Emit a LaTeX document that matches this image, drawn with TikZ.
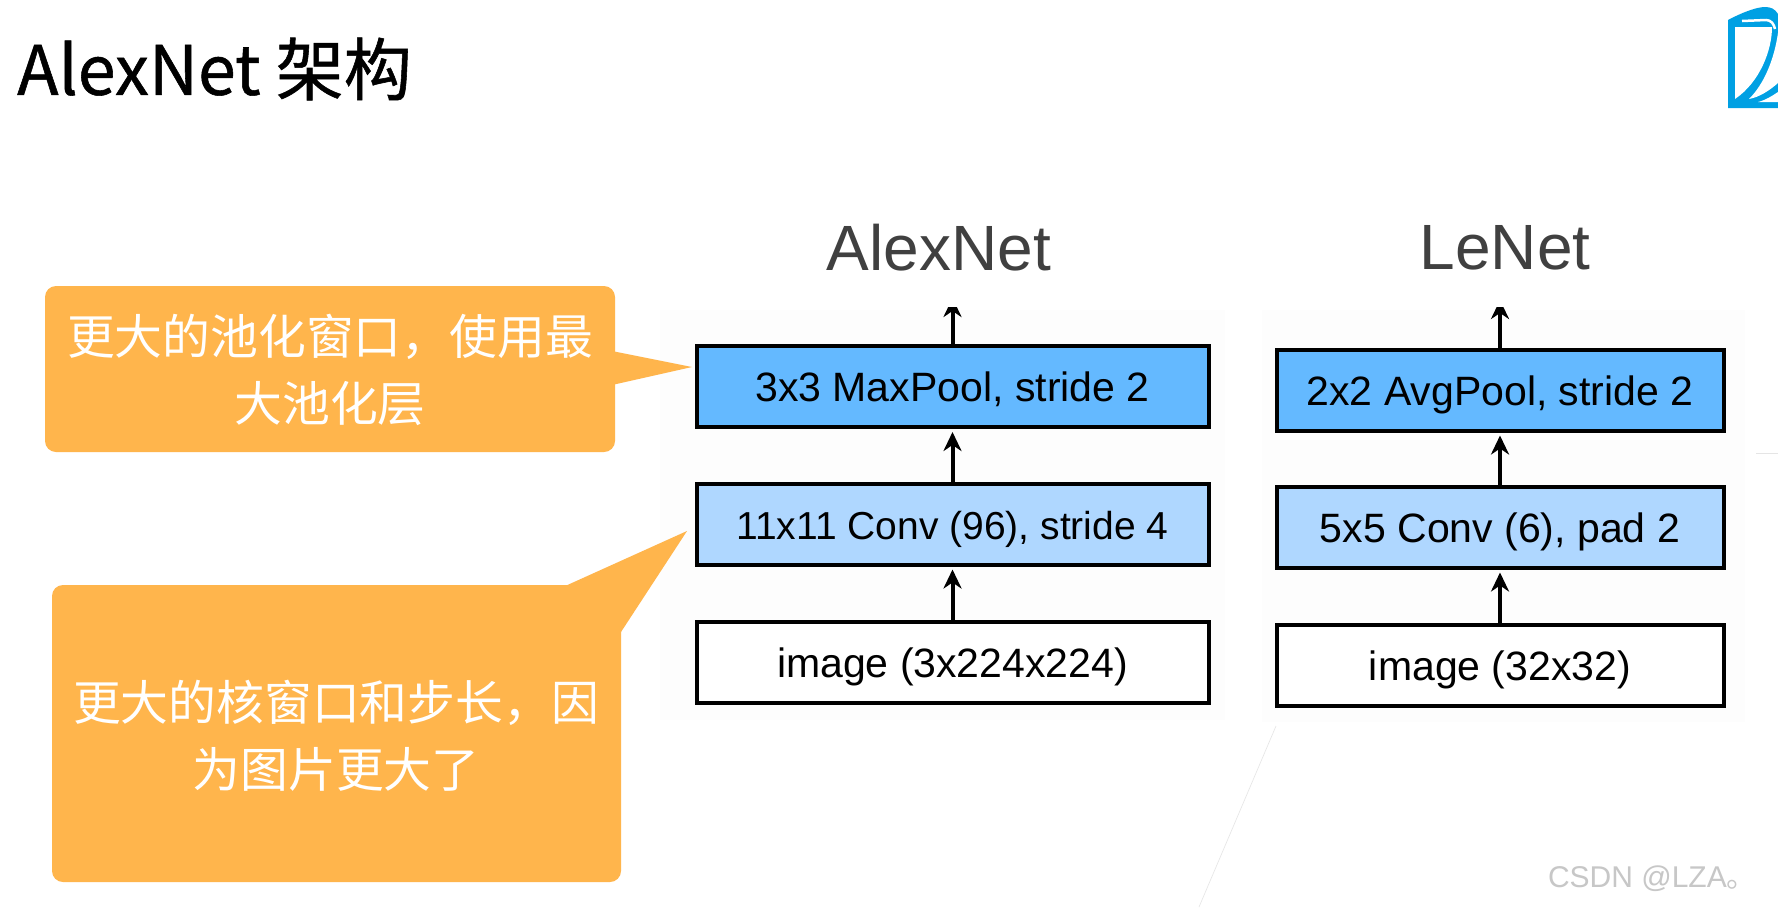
\documentclass[tikz,border=0pt]{standalone}
\usepackage{fontspec}
\setmainfont{Liberation Sans}
\newfontfamily\cjkf{Noto Sans CJK SC}
\newfontfamily\cjkhead[FakeBold=0.8]{Noto Sans CJK SC}
\usetikzlibrary{arrows.meta}
\definecolor{orangec}{HTML}{FFB54C}
\definecolor{poolc}{HTML}{64B9FF}
\definecolor{convc}{HTML}{AFD7FF}
\definecolor{logoc}{HTML}{00A0E3}
\tikzset{
 x=1pt,y=-1pt,
 layer/.style={draw=black,line width=4pt,minimum height=81pt,inner sep=0pt,font=\fontsize{41}{48}\selectfont,text=black,anchor=center,text height=32pt,text depth=2pt},
 awide/.style={layer,minimum width=512pt},
 lwide/.style={layer,minimum width=447pt},
 flow/.style={draw=black,line width=4pt,-{Stealth[length=19pt,width=18pt,inset=6pt]},shorten >=3pt},
 nettitle/.style={font=\fontsize{64}{70}\selectfont,text=black!75,inner sep=0pt},
 callout/.style={fill=orangec,draw=none,rounded corners=11pt},
 calltext/.style={font=\cjkf\fontsize{47.8}{66.5}\selectfont,text=white,align=center,inner sep=0pt},
 faint/.style={draw=black!10,line width=.6pt},
}
\begin{document}
\begin{tikzpicture}
\useasboundingbox (0,0) rectangle (1778,908);
\fill[white] (0,0) rectangle (1778,908);
\fill[black!.6] (660,310) rectangle (1225,720);
\fill[black!.6] (1262,310) rectangle (1745,722);
\node[font=\cjkhead\fontsize{68}{74}\selectfont,text=black,inner sep=0pt,anchor=west] (head) at (17,69) {AlexNet 架构};
% logo
\begin{scope}
\clip (0,0) rectangle (1778,908);
\fill[logoc] (1728,108) -- (1728,20) .. controls (1745,11) and (1758,7) .. (1765,7) .. controls (1771,7) and (1775,9) .. (1778,14) -- (1778,108) -- cycle;
\draw[white,line width=2.5pt] (1742,21) -- (1766,20) .. controls (1771,20) and (1774,24) .. (1775,29);
\fill[white] (1735,27) -- (1772,27) .. controls (1772,50) and (1760,82) .. (1735,99) -- cycle;
\fill[white] (1778,33) .. controls (1774,60) and (1764,84) .. (1749,99) .. controls (1760,97) and (1770,90) .. (1778,83) -- cycle;
\fill[white] (1758,102) .. controls (1766,100) and (1772,96) .. (1778,92) -- (1778,102) -- cycle;
\end{scope}
% faint lines
\draw[faint] (1276,726) -- (1199,907);
\draw[faint] (1756,453) -- (1778,453);
% callouts
\path[callout] (45,286) -- (615,286) -- (615,351) -- (615,385) -- (615,452) -- (45,452) -- cycle;
\fill[orangec] (612,351) -- (692,367) -- (612,385) -- cycle;
\path[callout] (52,585) -- (621,585) -- (621,882) -- (52,882) -- cycle;
\fill[orangec] (563,587) -- (687,531) -- (621,632) -- (610,632) -- cycle;
\node[calltext] (c1) at (330,370) {更大的池化窗口，使用最\\大池化层};
\node[calltext] (c2) at (336,736) {更大的核窗口和步长，因\\为图片更大了};
% titles
\node[nettitle] (ta) at (939,248) {AlexNet};
\node[nettitle] (tl) at (1505,248) {LeNet};
% AlexNet
\node[awide,fill=poolc] (a3) at (952.5,386.5) {3x3 MaxPool, stride 2};
\node[awide,fill=convc,font=\fontsize{39}{46}\selectfont] (a2) at (952.5,524) {11x11 Conv (96), stride 4};
\node[awide,fill=white] (a1) at (952.5,662) {image (3x224x224)};
% LeNet
\node[lwide,fill=poolc] (l3) at (1500,390) {2x2 AvgPool, stride 2};
\node[lwide,fill=convc] (l2) at (1500,527) {5x5 Conv (6), pad 2};
\node[lwide,fill=white] (l1) at (1500,665) {image (32x32)};
% arrows
\draw[flow] (a1) -- (a2);
\draw[flow] (a2) -- (a3);
\draw[flow] (l1) -- (l2);
\draw[flow] (l2) -- (l3);
\begin{scope}
\clip (900,307) rectangle (1600,347);
\coordinate (aout) at (952.5,298);
\coordinate (lout) at (1500,300);
\draw[flow,shorten >=0pt] (a3) -- (aout);
\draw[flow,shorten >=0pt] (l3) -- (lout);
\end{scope}
\node[font=\fontsize{30}{36}\selectfont,text=black!22,inner sep=0pt,anchor=east] (wm) at (1757,879) {CSDN @LZA{\cjkf 。}};
\end{tikzpicture}
\end{document}
